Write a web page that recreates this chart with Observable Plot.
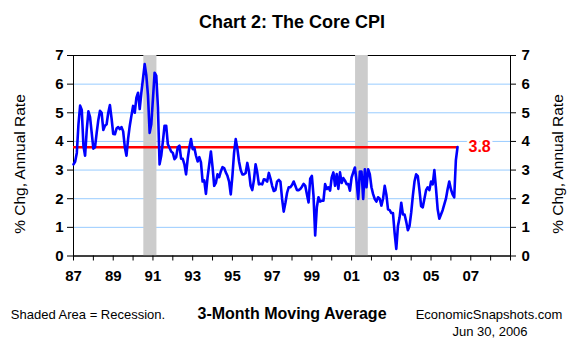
<!DOCTYPE html>
<html>
<head>
<meta charset="utf-8">
<script src="https://cdn.jsdelivr.net/npm/d3@7"></script>
<script src="https://cdn.jsdelivr.net/npm/@observablehq/plot@0.6"></script>
<style>
  html, body { margin: 0; padding: 0; background: #fff; }
  #wrap { position: relative; width: 580px; height: 350px; overflow: hidden; font-family: "Liberation Sans", Arial, sans-serif; color: #000; }
  #wrap svg { position: absolute; left: 0; top: 0; }
  .lbl { position: absolute; white-space: nowrap; transform: translate(-50%, -50%); line-height: 1; }
</style>
</head>
<body>
<div id="wrap"></div>
<script>
// ---- Data (monthly, 3-month moving average of core CPI, % chg annual rate) ----
const startYear = 1987;          // first observation: Jan 1987
const coreCPI = [
  3.2, 3.3, 3.6, 4.6, 5.25, 5.1, 3.85, 3.5, 4.4, 5.05, 4.85, 4.3,      // 1987
  3.75, 3.8, 4.3, 4.75, 5.07, 5.0, 4.4, 4.55, 4.6, 5.0, 5.27, 4.8,     // 1988
  4.26, 4.25, 4.45, 4.5, 4.43, 4.5, 4.35, 3.8, 3.5, 4.1, 4.55, 4.9,    // 1989
  5.24, 5.0, 5.53, 5.7, 5.13, 5.7, 6.2, 6.7, 6.3, 5.6, 4.3, 4.6,       // 1990
  5.5, 6.4, 6.3, 5.2, 3.2, 3.5, 4.0, 4.55, 4.55, 3.9, 3.78, 3.65,      // 1991
  3.6, 3.38, 3.45, 3.8, 3.85, 3.4, 3.39, 3.2, 2.85, 3.4, 3.8, 4.08,    // 1992
  3.73, 3.78, 3.5, 3.3, 3.45, 3.27, 2.6, 2.64, 2.17, 2.75, 3.2, 3.65,  // 1993
  3.1, 2.45, 2.55, 2.85, 2.75, 2.95, 3.1, 3.07, 2.92, 2.8, 2.6, 2.15,  // 1994
  2.8, 3.6, 4.08, 3.75, 3.3, 3.0, 2.85, 2.85, 2.9, 3.25, 2.95, 2.45,   // 1995
  2.3, 2.65, 3.2, 2.92, 2.5, 2.52, 2.5, 2.68, 2.66, 2.6, 2.9, 2.7,     // 1996
  2.45, 2.27, 2.3, 2.6, 2.66, 2.6, 2.0, 1.55, 1.85, 2.2, 2.4, 2.4,     // 1997
  2.48, 2.6, 2.45, 2.3, 2.3, 2.34, 2.42, 2.52, 2.45, 2.16, 1.87, 2.7,  // 1998
  2.8, 2.1, 0.72, 1.7, 2.05, 1.9, 1.93, 1.93, 2.51, 2.34, 2.4, 2.28,   // 1999
  2.74, 2.92, 2.45, 2.86, 2.34, 2.92, 2.55, 2.72, 2.63, 2.51, 2.51, 2.28, // 2000
  2.74, 2.92, 3.09, 2.6, 1.99, 2.95, 2.95, 1.99, 3.03, 2.4, 3.03, 2.86,   // 2001
  2.4, 2.16, 1.99, 1.9, 2.05, 2.0, 1.76, 2.0, 2.45, 2.15, 1.63, 1.6,   // 2002
  1.5, 1.5, 0.8, 0.25, 1.05, 1.35, 1.86, 1.45, 1.45, 1.2, 0.9, 1.05,   // 2003
  1.51, 2.1, 2.6, 2.85, 2.79, 2.3, 1.74, 1.7, 2.0, 2.3, 2.4, 2.3,      // 2004
  2.6, 2.5, 3.0, 2.35, 1.63, 1.3, 1.45, 1.6, 1.8, 2.0, 2.33, 2.6,      // 2005
  2.33, 2.15, 2.05, 3.35, 3.8                                          // 2006
];
const refLevel = [3.8];                       // latest value, red reference line
const recessionStart = [1990.54, 2001.2];     // shaded recessions (fractional years)
const recessionEnd   = [1991.2, 2001.84];
const xDomain = [1987, 2009];
const yDomain = [0, 7];
const yTicks = [0, 1, 2, 3, 4, 5, 6, 7];
const gridLevels = [1, 2, 3, 4, 5, 6];
const yearTicks = d3.range(1987, 2010);
const labeledYears = [1987, 1989, 1991, 1993, 1995, 1997, 1999, 2001, 2003, 2005, 2007];

// ---- Tables built from the arrays ----
const series = coreCPI.map((v, i) => ({date: startYear + i / 12, value: v}));
const recessions = recessionStart.map((s, i) => ({start: s, end: recessionEnd[i]}));
const firstDate = series[0].date;
const lastDate = series[series.length - 1].date;
const yearFmt = d => labeledYears.includes(d) ? String(d % 100).padStart(2, "0") : "";

const FONT = '"Liberation Sans", Arial, sans-serif';

const chart = Plot.plot({
  width: 580,
  height: 350,
  marginLeft: 73,
  marginRight: 70,
  marginTop: 55,
  marginBottom: 94.5,
  x: {domain: xDomain},
  y: {domain: yDomain},
  style: {fontFamily: FONT, fontSize: "15px", fontWeight: "bold", color: "#000", background: "transparent", overflow: "visible"},
  marks: [
    Plot.ruleY(gridLevels, {stroke: "#99ccff", strokeWidth: 1}),
    Plot.frame({stroke: "#000", strokeWidth: 1}),
    Plot.rect(recessions, {x1: "start", x2: "end", fill: "#cccccc"}),
    Plot.ruleY([0], {stroke: "#000", strokeWidth: 1}),
    Plot.axisY({anchor: "left", ticks: yTicks, tickSize: 6, tickPadding: 4, label: null, tickFormat: d => d}),
    Plot.axisY({anchor: "right", ticks: yTicks, tickSize: 5, tickPadding: 6, label: null, tickFormat: d => d}),
    Plot.axisX({anchor: "bottom", ticks: yearTicks, tickSize: 5, tickPadding: 9, tickFormat: yearFmt, label: null}),
    Plot.ruleY(refLevel, {x1: firstDate, x2: lastDate, stroke: "#ff0000", strokeWidth: 2.5}),
    Plot.lineY(series, {x: "date", y: "value", stroke: "#0000ff", strokeWidth: 2.6, curve: "linear"}),
    Plot.text(refLevel, {x: lastDate, y: d => d, text: d => d.toFixed(1), dx: 11, textAnchor: "start",
      fill: "#ff0000", stroke: "white", strokeWidth: 5, fontSize: 16, fontWeight: "bold"})
  ]
});

const wrap = document.getElementById("wrap");
wrap.appendChild(chart);

function addLabel(text, cx, cy, css) {
  const d = document.createElement("div");
  d.className = "lbl";
  d.textContent = text;
  d.style.left = cx + "px";
  d.style.top = cy + "px";
  Object.assign(d.style, css || {});
  wrap.appendChild(d);
}
addLabel("Chart 2: The Core CPI", 292, 22, {fontSize: "18px", fontWeight: "bold"});
addLabel("% Chg, Annual Rate", 20, 164, {fontSize: "15.5px", transform: "translate(-50%, -50%) rotate(-90deg)"});
addLabel("% Chg, Annual Rate", 558, 164, {fontSize: "15.5px", transform: "translate(-50%, -50%) rotate(-90deg)"});
addLabel("Shaded Area = Recession.", 88, 314, {fontSize: "13px"});
addLabel("3-Month Moving Average", 292, 314, {fontSize: "16px", fontWeight: "bold"});
addLabel("EconomicSnapshots.com", 489, 314, {fontSize: "13px"});
addLabel("Jun 30, 2006", 490, 331, {fontSize: "13px"});
</script>
</body>
</html>
